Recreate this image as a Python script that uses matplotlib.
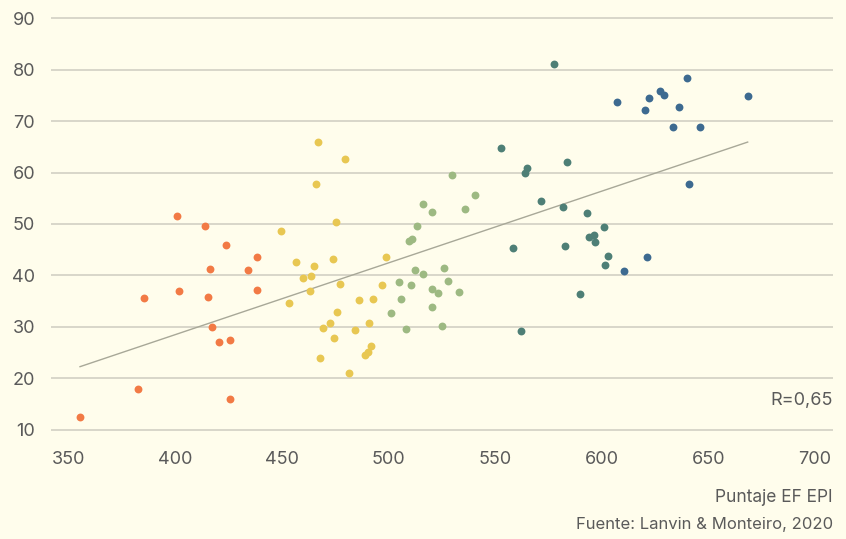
import matplotlib
matplotlib.use("Agg")
import matplotlib.pyplot as plt
import numpy as np

# ---- data ----
orange_x = [400.7, 414.2, 423.8, 438.2, 416.5, 434.3, 401.8, 385.3, 415.6, 438.2,
            417.3, 420.5, 425.9, 382.4, 425.9, 355.4]
orange_y = [51.5, 49.5, 45.95, 43.5, 41.3, 41.0, 36.9, 35.5, 35.8, 37.2,
            30.0, 27.0, 27.5, 17.9, 15.9, 12.4]

yellow_x = [467.2, 479.5, 465.9, 475.3, 449.5, 456.5, 465.2, 474.2, 499.0, 459.8,
            463.8, 477.3, 497.2, 463.0, 453.6, 486.0, 492.7, 476.0, 472.8, 491.0,
            469.2, 484.5, 474.3, 492.0, 490.4, 489.1, 468.1, 481.7]
yellow_y = [65.9, 62.7, 57.8, 50.4, 48.6, 42.5, 41.9, 43.2, 43.5, 39.5,
            39.9, 38.3, 38.2, 36.9, 34.7, 35.1, 35.3, 32.9, 30.7, 30.7,
            29.7, 29.3, 27.8, 26.2, 25.0, 24.4, 24.0, 21.05]

green_x = [516.4, 520.6, 513.6, 511.1, 509.4, 512.4, 516.0, 505.0, 510.5, 520.6,
           523.4, 506.0, 501.2, 520.6, 508.3, 530.0, 540.7, 536.1, 526.1, 528.0,
           533.1, 525.2]
green_y = [53.9, 52.3, 49.6, 47.1, 46.6, 41.0, 40.3, 38.6, 38.2, 37.3,
           36.5, 35.3, 32.7, 33.8, 29.55, 59.5, 55.7, 52.9, 41.4, 38.8,
           36.7, 30.1]

teal_x = [552.8, 565.1, 564.0, 583.8, 571.3, 581.6, 558.2, 582.7, 562.1, 589.7,
          577.7, 593.0, 600.9, 593.9, 596.4, 596.7, 602.7, 601.3]
teal_y = [64.8, 60.9, 59.9, 62.0, 54.5, 53.3, 45.3, 45.7, 29.2, 36.45,
          81.2, 52.1, 49.4, 47.5, 47.8, 46.5, 43.8, 42.1]

blue_x = [607.2, 622.0, 620.3, 627.3, 629.3, 639.9, 636.3, 633.4, 646.2, 668.4,
          640.7, 621.1, 610.2]
blue_y = [73.8, 74.4, 72.2, 75.9, 75.0, 78.3, 72.8, 68.85, 68.85, 74.9,
          57.7, 43.5, 40.9]

trend_slope = 0.1396
trend_intercept = -27.39

x_ticks = [350, 400, 450, 500, 550, 600, 650, 700]
y_ticks = [10, 20, 30, 40, 50, 60, 70, 80, 90]
r_label = "R=0,65"
x_title = "Puntaje EF EPI"
source = "Fuente: Lanvin & Monteiro, 2020"

# ---- style ----
bg = "#FFFDEC"
txt = "#5A5A5A"
plt.rcParams["font.family"] = ["Inter", "DejaVu Sans"]

fig = plt.figure(figsize=(8.46, 5.39), dpi=100, facecolor=bg)
W, H = 846, 539
xlim = (341.8, 708.4)
ylim = (7.0, 92.0)
left_px, right_px = 51, 833
top_px = 18.3 - 2 * 5.14
bot_px = 429.5 + 3 * 5.14
ax = fig.add_axes([left_px / W, 1 - bot_px / H, (right_px - left_px) / W, (bot_px - top_px) / H])
ax.set_facecolor(bg)
ax.set_xlim(*xlim)
ax.set_ylim(*ylim)

for s in ax.spines.values():
    s.set_visible(False)

ax.set_yticks(y_ticks)
ax.set_xticks(x_ticks)
ax.grid(axis="y", color="#D6D4C7", linewidth=1.3)
ax.set_axisbelow(True)
ax.tick_params(axis="both", length=0, labelsize=13, colors=txt)
ax.tick_params(axis="y", pad=11.5)
ax.tick_params(axis="x", pad=4.5)

all_x = orange_x + yellow_x + green_x + teal_x + blue_x
xs = np.array([min(all_x), max(all_x)])
ax.plot(xs, trend_slope * xs + trend_intercept, color="#A8A898", linewidth=1.0, zorder=2)

groups = [
    (orange_x, orange_y, "#F27A45"),
    (yellow_x, yellow_y, "#E8C752"),
    (green_x, green_y, "#9DB982"),
    (teal_x, teal_y, "#4E7F76"),
    (blue_x, blue_y, "#3D6A90"),
]
for gx, gy, c in groups:
    ax.scatter(gx, gy, s=32, color=c, linewidths=0, zorder=3, clip_on=False)

fig.text(right_px / W, 1 - 400 / H, r_label, ha="right", va="center", fontsize=13, color=txt)
fig.text(right_px / W, 1 - 498 / H, x_title, ha="right", va="center", fontsize=12.5, color=txt)
fig.text(right_px / W, 1 - 525 / H, source, ha="right", va="center", fontsize=12, color=txt)

fig.savefig("out.png", dpi=100, facecolor=bg)
